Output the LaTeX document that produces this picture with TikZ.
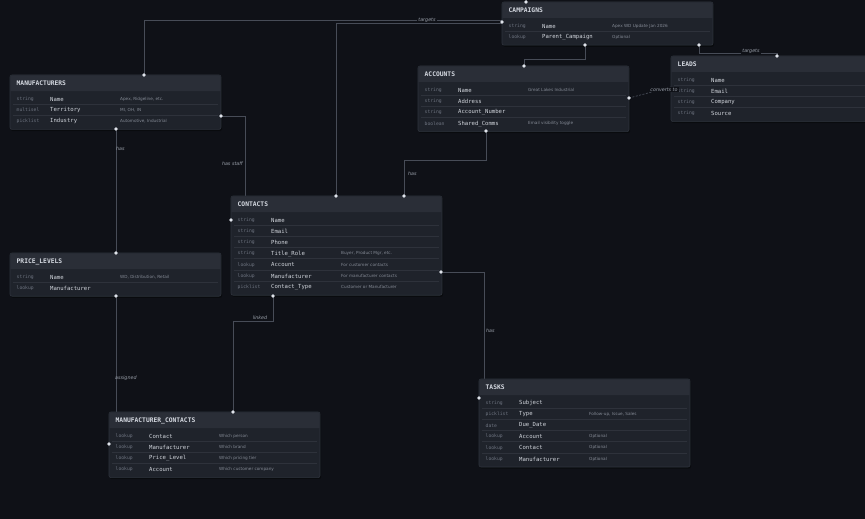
\documentclass[tikz,border=0pt]{standalone}
\usepackage{fontspec}
\usetikzlibrary{calc}
\newfontfamily\monof{DejaVu Sans Mono}
\newfontfamily\sansf{DejaVu Sans}
\definecolor{bgc}{HTML}{0F1117}
\definecolor{boxbg}{HTML}{1F232B}
\definecolor{headbg}{HTML}{2A2E37}
\definecolor{boxedge}{HTML}{2E333C}
\definecolor{sepc}{HTML}{2E323B}
\definecolor{titlec}{HTML}{D6DAE2}
\definecolor{fieldc}{HTML}{D2D6DD}
\definecolor{typec}{HTML}{6E7480}
\definecolor{notec}{HTML}{858B96}
\definecolor{labelc}{HTML}{9AA0AA}
\definecolor{linec}{HTML}{474C57}
\definecolor{dotcol}{HTML}{DFE3EA}
\tikzset{
  erbody/.style={fill=boxbg, draw=boxedge, line width=0.6pt, rounded corners=2pt},
  ertitle/.style={anchor=west, inner sep=0pt, font=\monof\bfseries\fontsize{6.3}{7}\selectfont, text=titlec},
  ertype/.style={anchor=west, inner sep=0pt, font=\monof\fontsize{4.7}{5}\selectfont, text=typec},
  erfield/.style={anchor=west, inner sep=0pt, font=\monof\fontsize{5.6}{6}\selectfont, text=fieldc},
  ernote/.style={anchor=west, inner sep=0pt, font=\sansf\fontsize{4.2}{5}\selectfont, text=notec},
  conn/.style={draw=linec, line width=0.7pt},
  elabel/.style={inner sep=1pt, font=\sansf\itshape\fontsize{4.8}{5}\selectfont, text=labelc},
  flabel/.style={elabel, fill=bgc},
  erdot/.style={circle, fill=dotcol, inner sep=0pt, minimum size=3.6pt}
}
\newcommand{\erent}[5]{% id, x, y, title, nrows
  \xdef\erx{#2}\xdef\ery{#3}\xdef\erid{#1}%
  \pgfmathsetmacro{\erh}{20.8+11.2*#5}%
  \fill[black, opacity=0.35, rounded corners=2pt] ({#2+0.8},{#3+1.2}) rectangle ({#2+212},{#3+\erh+1.6});
  \path[erbody] (#2,#3) rectangle ({#2+211},{#3+\erh});
  \fill[headbg] ({#2+0.3},{#3+16}) [rounded corners=1.8pt] -- ({#2+0.3},{#3+0.3}) -- ({#2+210.7},{#3+0.3}) [sharp corners] -- ({#2+210.7},{#3+16}) -- cycle;
  \node[ertitle] (#1-title) at ({#2+6.5},{#3+8.5}) {#4};
}
\newcommand{\errow}[4]{% i, type, field, note
  \ifnum#1>0 \draw[sepc, line width=0.5pt] ({\erx+3},{\ery+17.8+11.2*#1}) -- ({\erx+208},{\ery+17.8+11.2*#1});\fi
  \node[ertype] (\erid-t#1) at ({\erx+6.5},{\ery+24+11.2*#1}) {#2};
  \node[erfield] (\erid-f#1) at ({\erx+40},{\ery+24+11.2*#1}) {#3};
  \node[ernote] (\erid-n#1) at ({\erx+110},{\ery+24+11.2*#1}) {#4};
}
\begin{document}
\begin{tikzpicture}[x=1pt, y=-1pt]
\useasboundingbox (0,0) rectangle (865,519);
\fill[bgc] (0,0) rectangle (865,519);

% anchor points
\coordinate (mant) at (144,75);
\coordinate (manb) at (116,129);
\coordinate (manr) at (221,116);
\coordinate (campl) at (502,22);
\coordinate (camplA) at (502,20);
\coordinate (camplB) at (502,23.5);
\coordinate (campt) at (526,2);
\coordinate (camptop) at (526,-3);
\coordinate (campb) at (585,45);
\coordinate (campbr) at (699,45);
\coordinate (acct) at (524,66);
\coordinate (accr) at (629,98);
\coordinate (accb) at (486,131);
\coordinate (leadt) at (777,56);
\coordinate (leadl) at (671,87);
\coordinate (cont1) at (336,196);
\coordinate (cont2) at (404,196);
\coordinate (conl) at (231,220);
\coordinate (conr) at (441,272);
\coordinate (conb) at (273,296);
\coordinate (prit) at (116,253);
\coordinate (prib) at (116,296);
\coordinate (mct) at (233,412);
\coordinate (mcl) at (109,444);
\coordinate (taskl) at (479,398);

% connectors
\draw[conn] (mant) |- (camplA);
\draw[conn] (cont1) |- (camplB);
\draw[conn] (cont2) -- ++(0,-36) -| (accb);
\draw[conn] (manr) -| ($(conl)+(14,0)$) -- (conl);
\draw[conn] (manb) -- (prit);
\draw[conn] (prib) |- (mcl);
\draw[conn] (conb) -- ++(0,25) -| (mct);
\draw[conn] (conr) -| ($(taskl)+(5,0)$) -- (taskl);
\draw[conn] (campb) -- ++(0,14) -| (acct);
\draw[conn] (campbr) -- ++(0,8.5) -| (leadt);
\draw[conn, dashed, dash pattern=on 2pt off 1.5pt] (accr) -- (leadl);
\draw[conn] (campt) -- (camptop);

% entities
\erent{man}{10}{75}{MANUFACTURERS}{3}
\errow{0}{string}{Name}{Apex, Ridgeline, etc.}
\errow{1}{multisel}{Territory}{MI, OH, IN}
\errow{2}{picklist}{Industry}{Automotive, Industrial}

\erent{camp}{502}{2}{CAMPAIGNS}{2}
\errow{0}{string}{Name}{Apex WD Update Jan 2026}
\errow{1}{lookup}{Parent\_Campaign}{Optional}

\erent{acc}{418}{66}{ACCOUNTS}{4}
\errow{0}{string}{Name}{Great Lakes Industrial}
\errow{1}{string}{Address}{}
\errow{2}{string}{Account\_Number}{}
\errow{3}{boolean}{Shared\_Comms}{Email visibility toggle}

\erent{lead}{671}{56}{LEADS}{4}
\errow{0}{string}{Name}{}
\errow{1}{string}{Email}{}
\errow{2}{string}{Company}{}
\errow{3}{string}{Source}{}

\erent{con}{231}{196}{CONTACTS}{7}
\errow{0}{string}{Name}{}
\errow{1}{string}{Email}{}
\errow{2}{string}{Phone}{}
\errow{3}{string}{Title\_Role}{Buyer, Product Mgr, etc.}
\errow{4}{lookup}{Account}{For customer contacts}
\errow{5}{lookup}{Manufacturer}{For manufacturer contacts}
\errow{6}{picklist}{Contact\_Type}{Customer or Manufacturer}

\erent{pri}{10}{253}{PRICE\_LEVELS}{2}
\errow{0}{string}{Name}{WD, Distribution, Retail}
\errow{1}{lookup}{Manufacturer}{}

\erent{mc}{109}{412}{MANUFACTURER\_CONTACTS}{4}
\errow{0}{lookup}{Contact}{Which person}
\errow{1}{lookup}{Manufacturer}{Which brand}
\errow{2}{lookup}{Price\_Level}{Which pricing tier}
\errow{3}{lookup}{Account}{Which customer company}

\erent{task}{479}{379}{TASKS}{6}
\errow{0}{string}{Subject}{}
\errow{1}{picklist}{Type}{Follow-up, Issue, Sales}
\errow{2}{date}{Due\_Date}{}
\errow{3}{lookup}{Account}{Optional}
\errow{4}{lookup}{Contact}{Optional}
\errow{5}{lookup}{Manufacturer}{Optional}

% labels
\node[flabel] (lbl-targets1) at (427,20) {targets};
\node[flabel] (lbl-targets2) at (751,51) {targets};
\node[flabel] (lbl-converts) at (664,89.5) {converts to};
\node[elabel, anchor=west] (lbl-has1) at (407,174) {has};
\node[elabel, anchor=east] (lbl-hasstaff) at (244,164) {has staff};
\node[elabel, anchor=west] (lbl-has2) at (115,149) {has};
\node[elabel, anchor=west] (lbl-assigned) at (114,378) {assigned};
\node[elabel] (lbl-linked) at (260,318) {linked};
\node[elabel, anchor=west] (lbl-has3) at (485,331) {has};

% dots
\foreach \p in {mant,manb,manr,campl,campt,campb,campbr,acct,accr,accb,leadt,cont1,cont2,conl,conr,conb,prit,prib,mct,mcl,taskl}
  \node[erdot] (dot-\p) at (\p) {};
\end{tikzpicture}
\end{document}
